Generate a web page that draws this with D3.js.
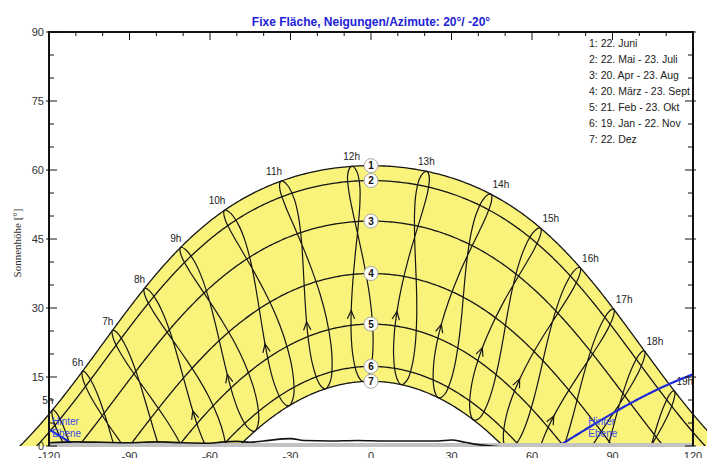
<!DOCTYPE html>
<html><head><meta charset="utf-8">
<script src="https://cdn.jsdelivr.net/npm/d3@7"></script>
<style>body{margin:0;background:#fff}svg{display:block}</style>
</head><body>
<svg id="c" width="707" height="458"></svg>
<script>
// ---------------- data ----------------
const titleText = "Fixe Fläche, Neigungen/Azimute: 20°/ -20°";
const yAxisTitle = "Sonnenhöhe [°]";
const latitude = 52.5;
const clockOffsetDeg = -3.35;   // hour-angle offset of clock time (longitude vs. time zone)
const hours = [5, 6, 7, 8, 9, 10, 11, 12, 13, 14, 15, 16, 17, 18, 19];
const hourLabels = ["5h","6h","7h","8h","9h","10h","11h","12h","13h","14h","15h","16h","17h","18h","19h"];
const curveIds = ["1","2","3","4","5","6","7"];
const curveDecl = [23.44, 20.2, 11.4, 0.0, -11.0, -20.2, -23.44];
const legendLabels = ["1: 22. Juni", "2: 22. Mai - 23. Juli", "3: 20. Apr - 23. Aug",
  "4: 20. März - 23. Sept", "5: 21. Feb - 23. Okt", "6: 19. Jan - 22. Nov", "7: 22. Dez"];
// dates through the year for the hour lines (analemmas)
const yearDates = ["01.01","15.01","01.02","15.02","01.03","15.03","01.04","15.04","01.05","15.05",
  "01.06","15.06","22.06","01.07","15.07","01.08","15.08","01.09","15.09","01.10","15.10",
  "01.11","15.11","01.12","15.12","22.12"];
const yearDecl = [-23.0,-21.2,-17.2,-12.7,-7.8,-2.3,4.4,9.7,15.0,18.8,
  22.0,23.3,23.44,23.1,21.5,18.0,13.9,8.2,2.9,-3.1,-8.5,
  -14.4,-18.5,-21.8,-23.2,-23.44];
const yearEoT = [-3.3,-9.1,-13.5,-14.2,-12.5,-9.1,-4.1,-0.1,2.9,3.7,
  2.2,-0.4,-1.9,-3.7,-6.0,-6.3,-4.4,-0.1,4.7,10.2,14.2,
  16.4,15.3,11.0,4.8,1.4];
const arrowDate = "01.03";
const labelDate = "22.06";
const xTicks = [-120, -90, -60, -30, 0, 30, 60, 90, 120];
const yTicks = [0, 15, 30, 45, 60, 75, 90];
const horizonAz  = [-120,-110,-100,-90,-80,-70,-60,-55,-50,-45,-40,-30,-25,-15,-5,5,15,25,30,35,40,45,50];
const horizonAlt = [0.7,0.9,0.8,0.7,0.9,0.7,0.6,0.9,1.0,0.8,1.1,1.6,1.2,1.1,1.2,1.1,1.1,1.1,1.3,0.8,0.3,0.0,-0.3];
const planeTilt = 20, planeAzimuth = -20;
const planeLabel = ["Hinter", "Ebene"];

// ---------------- drawing ----------------
const svg = d3.select("#c");
const x = d3.scaleLinear().domain([-120, 120]).range([49, 693]);
const y = d3.scaleLinear().domain([0, 90]).range([446, 32]);
const kx = x(1) - x(0), ky = y(0) - y(1);
const raw = (l, p) => [l, p * ky / kx];
raw.invert = (a, b) => [a, b * kx / ky];
const sky = d3.geoProjection(raw).scale(kx * 180 / Math.PI).translate([x(0), y(0)])
  .rotate([0, 90 - latitude]).precision(0.1);
const horiz = d3.geoProjection(raw).scale(kx * 180 / Math.PI).translate([x(0), y(0)]).precision(0.1);
const gSky = d3.geoPath(sky), gHor = d3.geoPath(horiz);

const defs = svg.append("defs");
defs.append("clipPath").attr("id","clipSky").append("rect")
  .attr("x",0).attr("y",0).attr("width",707).attr("height",y(0));
defs.append("clipPath").attr("id","clipFrame").append("rect")
  .attr("x",x(-120)).attr("y",y(90)).attr("width",x(120)-x(-120)).attr("height",y(0)-y(90));

const hourAngle = (h, eot) => 15 * (h - 12) + clockOffsetDeg + eot / 4;

const band = svg.append("g").attr("clip-path","url(#clipSky)");
band.append("path")
  .attr("d", gSky(d3.geoCircle().center([0, 90]).radius(90 - d3.min(curveDecl)).precision(0.5)()))
  .attr("fill", "#f9f27b");
band.append("path")
  .attr("d", gSky(d3.geoCircle().center([0, 90]).radius(90 - d3.max(curveDecl)).precision(0.5)()))
  .attr("fill", "#ffffff");

// day curves
curveDecl.forEach(d => {
  const ring = d3.geoCircle().center([0, 90]).radius(90 - d).precision(0.5)().coordinates[0];
  band.append("path").attr("d", gSky({type: "LineString", coordinates: ring}))
    .attr("fill","none").attr("stroke","#151515").attr("stroke-width",1.3);
});

// hour lines (analemmas)
const lineGen = d3.line().curve(d3.curveCatmullRomClosed.alpha(0.5));
const ai = yearDates.indexOf(arrowDate);
const li = yearDates.indexOf(labelDate);
hours.forEach((h, k) => {
  const pts = yearDecl.map((d, i) => sky([hourAngle(h, yearEoT[i]), d]));
  band.append("path").attr("d", lineGen(pts))
    .attr("fill","none").attr("stroke","#151515").attr("stroke-width",1.2);
  // arrowhead
  const p = pts[ai], a = pts[ai - 1], b = pts[ai + 1];
  if (p[1] < y(0) - 6) {
    const ang = Math.atan2(b[1] - a[1], b[0] - a[0]);
    const L = 9, s = 0.42;
    const q1 = [p[0] - L * Math.cos(ang - s), p[1] - L * Math.sin(ang - s)];
    const q2 = [p[0] - L * Math.cos(ang + s), p[1] - L * Math.sin(ang + s)];
    band.append("path").attr("d", `M${q1}L${p}L${q2}`)
      .attr("fill","none").attr("stroke","#151515").attr("stroke-width",1.2);
  }
  // hour label
  const lp = pts[li];
  const azp = x.invert(lp[0]);
  const anchor = azp < -20 ? "end" : (azp > 30 ? "start" : "middle");
  svg.append("text").attr("x", lp[0] + (anchor === "end" ? 1 : anchor === "start" ? 2 : 0))
    .attr("y", lp[1] - 6).attr("text-anchor", anchor)
    .attr("font-family","Arial, Liberation Sans, sans-serif").attr("font-size",10)
    .attr("fill","#222").text(hourLabels[k]);
});

// plane horizon ("Hinter Ebene")
const planeRing = d3.geoCircle().center([planeAzimuth, 90 - planeTilt]).radius(90).precision(0.5)().coordinates[0];
svg.append("path").attr("clip-path","url(#clipFrame)")
  .attr("d", gHor({type:"LineString", coordinates: planeRing}))
  .attr("fill","none").attr("stroke","#1d2ad6").attr("stroke-width",2.2);
[[x(-118.8)], [x(81)]].forEach(([px]) => {
  planeLabel.forEach((t, i) => {
    svg.append("text").attr("x", px).attr("y", 425 + i * 12)
      .attr("font-family","Arial, Liberation Sans, sans-serif").attr("font-size",10)
      .attr("fill","#3a4ee6").text(t);
  });
});

// day-curve markers
curveDecl.forEach((d, i) => {
  const p = sky([0, d]);
  svg.append("circle").attr("cx", p[0]).attr("cy", p[1]).attr("r", 7)
    .attr("fill","#fff").attr("stroke","#a8a8a8").attr("stroke-width",1);
  svg.append("text").attr("x", p[0]).attr("y", p[1] + 3.6).attr("text-anchor","middle")
    .attr("font-family","Arial, Liberation Sans, sans-serif").attr("font-size",10)
    .attr("font-weight","bold").attr("fill","#111").text(curveIds[i]);
});

// horizon profile and ground strip
svg.append("rect").attr("x", x(-120)).attr("y", 443).attr("width", x(120) - x(-120)).attr("height", 4)
  .attr("fill","#c2c2c2");
svg.append("path").attr("clip-path","url(#clipFrame)")
  .attr("d", d3.line().curve(d3.curveMonotoneX)(horizonAz.map((a, i) => [x(a), y(horizonAlt[i])])))
  .attr("fill","none").attr("stroke","#111").attr("stroke-width",1.6);

// frame
const fr = svg.append("g").attr("stroke","#111").attr("fill","none");
fr.append("path").attr("d", `M${x(-120)},${y(0)}V${y(90)}H${x(120)}V${y(0)}`).attr("stroke-width",2);
d3.range(0, 91, 5).forEach(v => {
  const major = v % 15 === 0;
  fr.append("line").attr("x1", x(-120) - (major ? 3 : 0)).attr("x2", x(-120) + (major ? 8 : 5))
    .attr("y1", y(v)).attr("y2", y(v)).attr("stroke-width",1);
  fr.append("line").attr("x1", x(120) + (major ? 3 : 0)).attr("x2", x(120) - (major ? 8 : 5))
    .attr("y1", y(v)).attr("y2", y(v)).attr("stroke-width",1);
});
d3.range(-120, 121, 10).forEach(v => {
  const major = v % 30 === 0;
  fr.append("line").attr("x1", x(v)).attr("x2", x(v)).attr("y1", y(90)).attr("y2", y(90) + (major ? 8 : 4))
    .attr("stroke-width",1);
});

// tick labels
yTicks.forEach(v => svg.append("text").attr("x", x(-120) - 5).attr("y", y(v) + 4)
  .attr("text-anchor","end").attr("font-family","Arial, Liberation Sans, sans-serif")
  .attr("font-size",11).attr("fill","#333").text(v));
xTicks.forEach(v => svg.append("text").attr("x", x(v)).attr("y", 459.5)
  .attr("text-anchor","middle").attr("font-family","Arial, Liberation Sans, sans-serif")
  .attr("font-size",11).attr("fill","#333").text(v));

// axis title
svg.append("text").attr("transform", `translate(21,${(y(0) + y(90)) / 2 + 4}) rotate(-90)`)
  .attr("text-anchor","middle").attr("font-family","Liberation Serif, Times New Roman, serif")
  .attr("font-size",11).attr("fill","#333").text(yAxisTitle);

// title
svg.append("text").attr("x", x(0)).attr("y", 26).attr("text-anchor","middle")
  .attr("font-family","Arial, Liberation Sans, sans-serif").attr("font-size",12)
  .attr("font-weight","bold").attr("fill","#2121d6").text(titleText);

// legend
legendLabels.forEach((t, i) => svg.append("text").attr("x", 589).attr("y", 47 + i * 16)
  .attr("font-family","Arial, Liberation Sans, sans-serif").attr("font-size",10.5)
  .attr("fill","#222").text(t));
</script>
</body></html>
